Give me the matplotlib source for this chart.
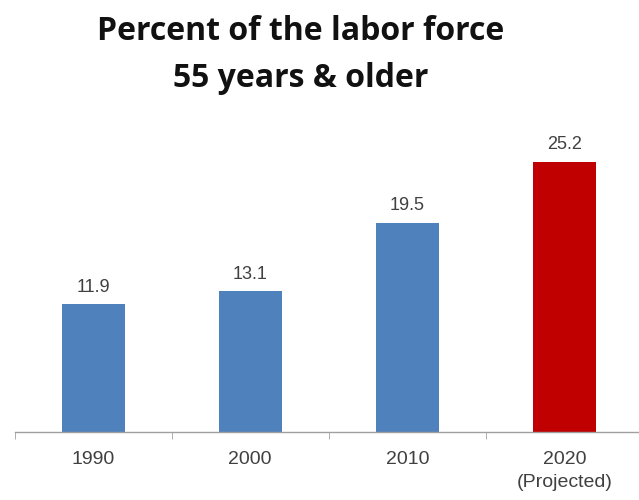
import matplotlib
matplotlib.use("Agg")
import matplotlib.pyplot as plt
import numpy as np

categories = ["1990", "2000", "2010", "2020\n(Projected)"]
values = [11.9, 13.1, 19.5, 25.2]
labels = ["11.9", "13.1", "19.5", "25.2"]
colors = ["#4F81BD", "#4F81BD", "#4F81BD", "#C00000"]
title_lines = ["Percent of the labor force", "55 years & older"]

fig = plt.figure(figsize=(6.39, 5.0), dpi=100)
ax = fig.add_axes([0.023, 0.136, 0.983, 0.644])
x = np.arange(len(categories))
ax.bar(x, values, width=0.4, color=colors, zorder=2)
for xi, v, lab in zip(x, values, labels):
    ax.annotate(lab, (xi, v), xytext=(0, 6), textcoords="offset points",
                ha="center", va="bottom", fontsize=13, color="#404040",
                family="Liberation Sans")
ax.set_xlim(-0.5, 3.5)
ax.set_ylim(0, 30)
for s in ["top", "right", "left"]:
    ax.spines[s].set_visible(False)
ax.spines["bottom"].set_color("#A0A0A0")
ax.spines["bottom"].set_linewidth(1.0)
ax.set_yticks([])
ax.set_xticks(x)
ax.set_xticklabels(categories, fontsize=14, color="#404040", family="Liberation Sans",
                   linespacing=1.4)
ax.tick_params(axis="x", which="major", length=0, pad=14)
ax.set_xticks(np.arange(-0.5, 4.0, 1.0), minor=True)
ax.tick_params(axis="x", which="minor", length=5, color="#A0A0A0")
for yb, line in zip([0.92, 0.826], title_lines):
    fig.text(0.471, yb, line, ha="center", va="baseline", fontsize=23,
             fontweight="bold", family="Open Sans", color="#111111")
fig.savefig("out.png", dpi=100)
